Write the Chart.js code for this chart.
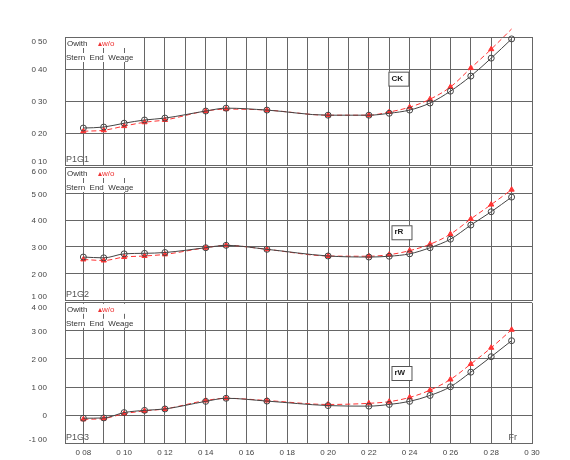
<!DOCTYPE html>
<html><head><meta charset="utf-8">
<script src="https://cdn.jsdelivr.net/npm/chart.js@4"></script>
<style>body{margin:0;background:#fff;width:570px;height:460px;overflow:hidden;position:relative}
canvas{position:absolute;left:0}</style></head>
<body>
<canvas id="c1" style="top:0px"></canvas>
<canvas id="c2" style="top:140px"></canvas>
<canvas id="c3" style="top:280px"></canvas>
<script>
const fr = [0.08,0.09,0.10,0.11,0.12,0.14,0.15,0.17,0.20,0.22,0.23,0.24,0.25,0.26,0.27,0.28,0.29];
const ckWith = [0.216,0.219,0.231,0.241,0.247,0.269,0.278,0.272,0.256,0.256,0.262,0.272,0.294,0.331,0.378,0.434,0.494];
const ckWo   = [0.206,0.209,0.222,0.234,0.241,0.269,0.275,0.272,0.256,0.256,0.266,0.281,0.306,0.344,0.403,0.462,0.525];
const rRWith = [2.62,2.59,2.74,2.76,2.79,2.97,3.06,2.91,2.66,2.62,2.65,2.74,2.97,3.29,3.82,4.32,4.87];
const rRWo   = [2.53,2.49,2.62,2.66,2.72,2.97,3.06,2.91,2.66,2.65,2.71,2.86,3.10,3.48,4.05,4.59,5.15];
const rWWith = [-0.11,-0.10,0.09,0.17,0.22,0.49,0.60,0.50,0.34,0.32,0.38,0.49,0.70,1.01,1.53,2.08,2.65];
const rWWo   = [-0.15,-0.12,0.05,0.15,0.22,0.52,0.60,0.52,0.38,0.42,0.48,0.63,0.89,1.27,1.82,2.40,3.04];
const xTicks = [0.08,0.09,0.10,0.11,0.12,0.13,0.14,0.15,0.16,0.17,0.18,0.19,0.20,0.21,0.22,0.23,0.24,0.25,0.26,0.27,0.28,0.29,0.30];
const panels = [
 {id:'c1',h:188,pad:{top:37,bottom:7},min:0.1,max:0.5,step:0.1,w:ckWith,wo:ckWo,name:'P1G1',tag:'CK',tagX:0.2345,tagY:0.37,xlab:false},
 {id:'c2',h:183,pad:{top:27,bottom:7},min:1,max:6,step:1,w:rRWith,wo:rRWo,name:'P1G2',tag:'rR',tagX:0.236,tagY:3.55,xlab:false},
 {id:'c3',h:186,pad:{top:22,bottom:11},min:-1,max:4,step:1,w:rWWith,wo:rWWo,name:'P1G3',tag:'rW',tagX:0.236,tagY:1.5,xlab:true}
];
const F='"Liberation Sans", Arial, sans-serif';
function fmt(v){ if(Math.abs(v)<1e-9) return '0'; const s=v.toFixed(2); return s.replace('.',' ');}
panels.forEach(p=>{
 const cv=document.getElementById(p.id); cv.width=570; cv.height=p.h; cv.style.width='570px'; cv.style.height=p.h+'px';
 const deco={id:'deco',afterDatasetsDraw(c){
   const ctx=c.ctx, a=c.chartArea, xs=c.scales.x, ys=c.scales.y;
   ctx.save();
   ctx.font='8px '+F; ctx.textBaseline='middle'; ctx.fillStyle='#444'; ctx.textAlign='right';
   ys.ticks.forEach(t=>{ let y=ys.getPixelForValue(t.value);
     if(t.value===p.max) y+=5; else if(t.value===p.min) y-=3; else y+=1;
     ctx.fillText(fmt(t.value),47,y); });
   ctx.textAlign='left';
   ctx.fillStyle='#fff'; ctx.fillRect(a.left+1,a.top+1,60,10); ctx.fillRect(a.left+1,a.top+16,61,9);
   ctx.fillStyle='#333'; ctx.fillText('Owith',a.left+2,a.top+7);
   ctx.fillStyle='#e33'; ctx.fillText('▴w/o',a.left+33,a.top+7);
   ctx.fillStyle='#333'; ctx.fillText('Stern  End  Weage',a.left+1,a.top+21);
   ctx.font='9px '+F; ctx.fillStyle='#555'; ctx.fillText(p.name,a.left+1,a.bottom-6);
   if(p.xlab){
     ctx.fillText('Fr',xs.getPixelForValue(0.29)-3,a.bottom-6);
     ctx.font='8px '+F; ctx.fillStyle='#444'; ctx.textAlign='center';
     xTicks.forEach(v=>{ if(Math.round(v*100)%2===0) ctx.fillText(fmt(v),xs.getPixelForValue(v),a.bottom+10); });
     ctx.textAlign='left';
   }
   const tx=xs.getPixelForValue(p.tagX), ty=ys.getPixelForValue(p.tagY);
   ctx.fillStyle='#fff'; ctx.fillRect(tx-10,ty-7,20,14);
   ctx.strokeStyle='#555'; ctx.lineWidth=1; ctx.strokeRect(tx-10+0.5,ty-7+0.5,20,14);
   ctx.font='bold 8px '+F; ctx.fillStyle='#222'; ctx.fillText(p.tag,tx-7,ty);
   ctx.restore();
 }};
 new Chart(cv,{type:'line',
  data:{datasets:[
   {label:'with',data:fr.map((x,i)=>({x,y:p.w[i]})),borderColor:'#444',borderWidth:1,pointStyle:'circle',pointRadius:3,pointBorderColor:'#444',pointBackgroundColor:'rgba(0,0,0,0)',pointBorderWidth:1,cubicInterpolationMode:'monotone',clip:false},
   {label:'w/o',data:fr.map((x,i)=>({x,y:p.wo[i]})),borderColor:'#f33',borderWidth:1,borderDash:[5,3],pointStyle:'triangle',pointRadius:3,pointBorderColor:'#f33',pointBackgroundColor:'#f33',cubicInterpolationMode:'monotone',clip:false}
  ]},
  options:{responsive:false,animation:false,devicePixelRatio:1,
   layout:{padding:{left:0,right:38,top:p.pad.top,bottom:p.pad.bottom}},
   plugins:{legend:{display:false},tooltip:{enabled:false}},
   scales:{
    x:{type:'linear',min:0.071,max:0.30,
      afterBuildTicks(s){s.ticks=xTicks.map(v=>({value:v}));},
      afterFit(s){s.height=0;},
      grid:{color:'#666',lineWidth:1,drawTicks:false},border:{color:'#666'},
      ticks:{display:false}},
    y:{min:p.min,max:p.max,
      afterBuildTicks(s){const t=[];for(let v=p.min;v<=p.max+1e-9;v+=p.step)t.push({value:+v.toFixed(2)});s.ticks=t;},
      afterFit(s){s.width=65;},
      grid:{color:'#666',lineWidth:1,drawTicks:false},border:{color:'#666'},
      ticks:{padding:18,color:'rgba(0,0,0,0)',font:{family:F,size:8},callback:v=>fmt(v)}}
   }},
  plugins:[deco]});
});
</script></body></html>
